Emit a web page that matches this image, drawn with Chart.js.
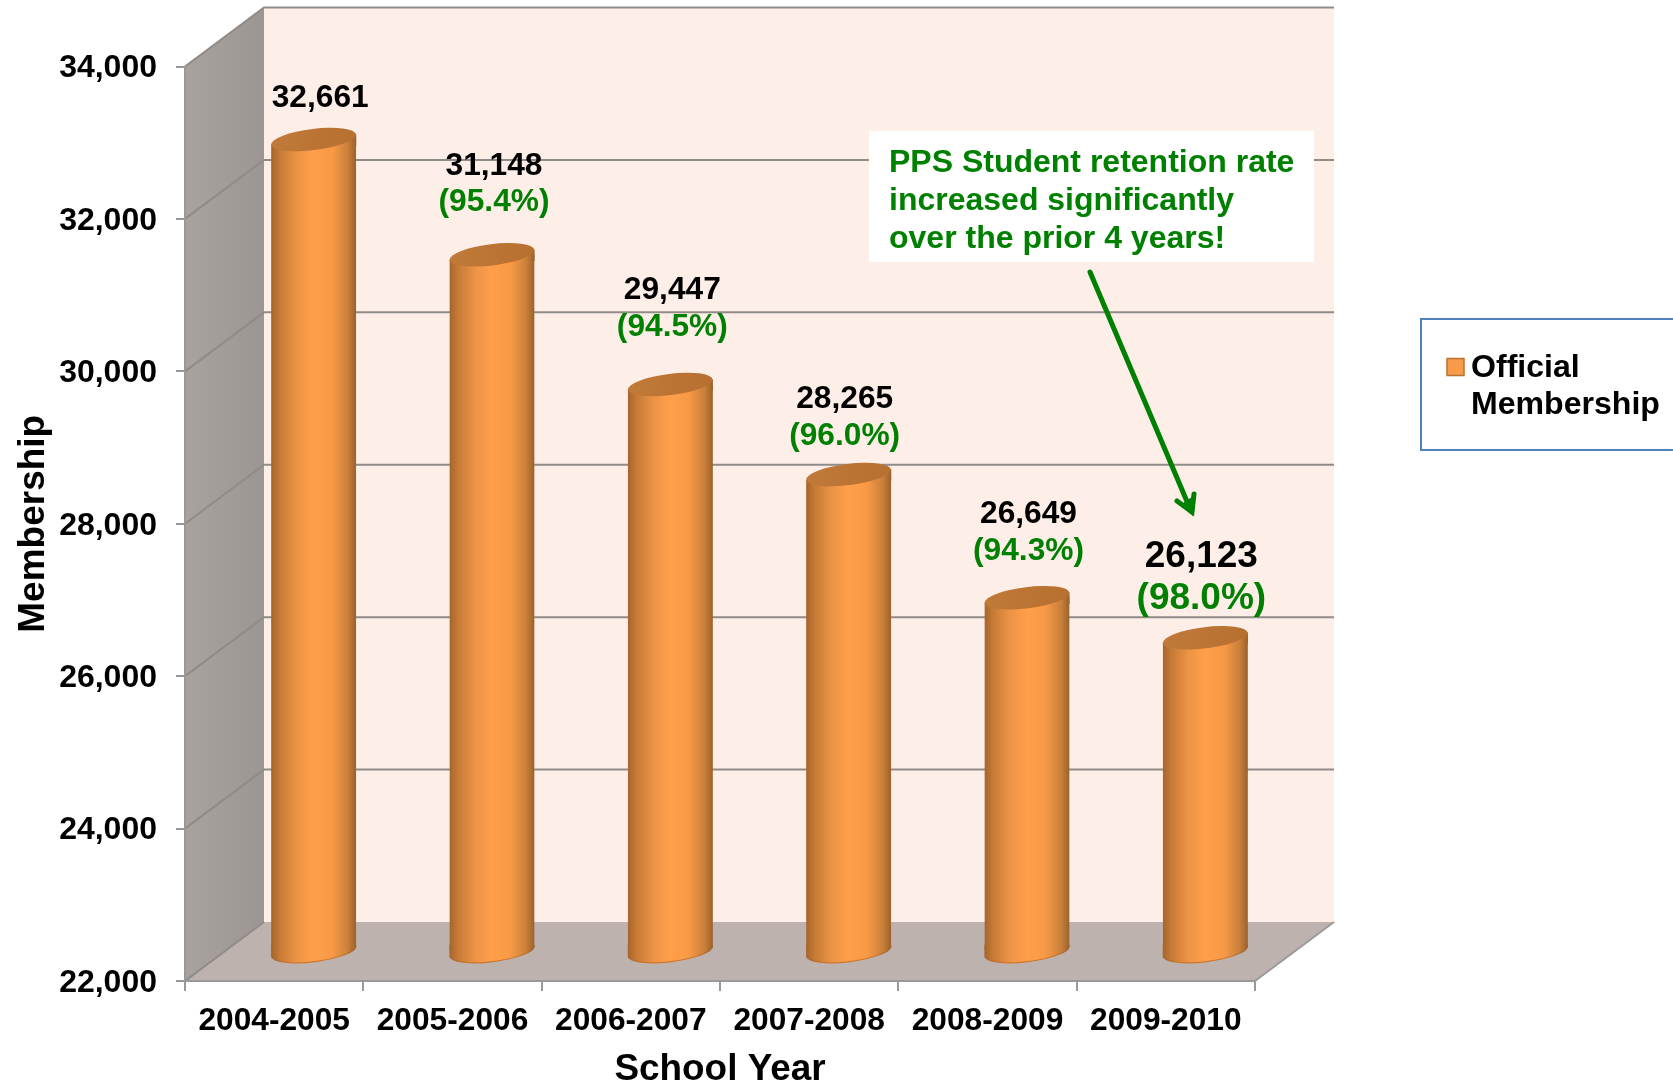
<!DOCTYPE html>
<html>
<head>
<meta charset="utf-8">
<title>PPS Official Membership</title>
<style>
  html, body { margin: 0; padding: 0; background: #ffffff; }
  canvas { display: block; }
</style>
<script src="https://cdn.jsdelivr.net/npm/chart.js@4/dist/chart.umd.min.js"></script>
</head>
<body>
<canvas id="chart" width="1673" height="1086"></canvas>
<script>
// Chart content
const schoolYears = ['2004-2005', '2005-2006', '2006-2007', '2007-2008', '2008-2009', '2009-2010'];
const membership = [32661, 31148, 29447, 28265, 26649, 26123];
const retentionRates = [null, '95.4%', '94.5%', '96.0%', '94.3%', '98.0%'];
const axisMin = 22000;
const axisMax = 34000;
const axisStep = 2000;
const seriesName = ['Official', 'Membership'];
const calloutLines = ['PPS Student retention rate', 'increased significantly', 'over the prior 4 years!'];

// Value label placement relative to the top of each cylinder: [dx, black dy, green dy]
const labelNudges = [
  [6.5, -41, 0], [2, -89, -53], [2, -94, -57],
  [-4, -75, -38], [1.5, -83, -46], [-4, -81, -39]
];
const labelSizes = [[31.7, 0], [31.7, 31.7], [31.7, 31.7], [31.7, 31.7], [31.7, 31.7], [37, 37]];

// Pseudo-3D box depth in pixels
const DEPTH_X = 79;
const DEPTH_Y = -59;
const BAR_DX = 39.5;
const BAR_DY = -29;
const TILT = 7 * Math.PI / 180;
const CAP_RATIO = 0.25;

const FONT = '"Liberation Sans", Arial, sans-serif';
const GREEN = '#008000';
const GRID = '#8f8b88';
const ORANGE = '#ff9f4b';

function cylinderGradient(ctx, left, right) {
  const g = ctx.createLinearGradient(left, 0, right, 0);
  g.addColorStop(0, '#a5652c');
  g.addColorStop(0.1, '#c67a36');
  g.addColorStop(0.3, '#ec9345');
  g.addColorStop(0.5, '#ff9f4b');
  g.addColorStop(0.72, '#f79946');
  g.addColorStop(0.9, '#c9803a');
  g.addColorStop(1, '#9c602b');
  return g;
}

// Floor, side wall, back wall and the gridlines that wrap round them
const boxPlugin = {
  id: 'box3d',
  beforeDraw(chart) {
    const { ctx, chartArea: a, scales: { y } } = chart;
    const poly = (pts, fill) => {
      ctx.beginPath();
      pts.forEach((p, i) => (i ? ctx.lineTo(p[0], p[1]) : ctx.moveTo(p[0], p[1])));
      ctx.closePath();
      ctx.fillStyle = fill;
      ctx.fill();
    };
    ctx.save();
    const bl = a.left + DEPTH_X, br = a.right + DEPTH_X;
    poly([[bl, a.top + DEPTH_Y], [br, a.top + DEPTH_Y], [br, a.bottom + DEPTH_Y], [bl, a.bottom + DEPTH_Y]], '#fdeee7');
    poly([[a.left, a.bottom], [bl, a.bottom + DEPTH_Y], [br, a.bottom + DEPTH_Y], [a.right, a.bottom]], '#bdb2ae');
    const wall = ctx.createLinearGradient(a.left, 0, bl, 0);
    wall.addColorStop(0, '#a9a39f');
    wall.addColorStop(1, '#9c9692');
    poly([[a.left, a.bottom], [bl, a.bottom + DEPTH_Y], [bl, a.top + DEPTH_Y], [a.left, a.top]], wall);

    ctx.strokeStyle = GRID;
    ctx.lineWidth = 2;
    y.ticks.forEach((t) => {
      const py = y.getPixelForValue(t.value);
      ctx.beginPath();
      ctx.moveTo(a.left, py);
      ctx.lineTo(bl, py + DEPTH_Y);
      if (t.value !== axisMin) ctx.lineTo(br, py + DEPTH_Y);
      ctx.stroke();
    });
    ctx.strokeStyle = '#9a9a9a';
    ctx.beginPath();
    ctx.moveTo(a.right, a.bottom);
    ctx.lineTo(br, a.bottom + DEPTH_Y);
    ctx.stroke();
    ctx.restore();
  }
};

// Shifts the bars to mid-depth of the box and gives them round caps
const cylinderPlugin = {
  id: 'cylinders',
  beforeDatasetsDraw(chart) {
    const { ctx } = chart;
    const bars = chart.getDatasetMeta(0).data;
    ctx.save();
    ctx.translate(BAR_DX, BAR_DY);
    const slope = Math.tan(TILT);
    bars.forEach((bar) => {
      const r = bar.width / 2, d = r * slope;
      const body = cylinderGradient(ctx, bar.x - r, bar.x + r);
      ctx.fillStyle = body;
      ctx.beginPath();
      ctx.ellipse(bar.x, bar.base, r, r * CAP_RATIO, -TILT, 0, Math.PI * 2);
      ctx.fill();
      // Wedges joining the square body to the tilted ellipses at each end
      ctx.beginPath();
      ctx.moveTo(bar.x - r, bar.base - d - 1);
      ctx.lineTo(bar.x + r, bar.base - d - 1);
      ctx.lineTo(bar.x + r, bar.base - d);
      ctx.lineTo(bar.x - r, bar.base + d);
      ctx.closePath();
      ctx.moveTo(bar.x - r, bar.y + d);
      ctx.lineTo(bar.x + r, bar.y - d);
      ctx.lineTo(bar.x + r, bar.y + d + 1);
      ctx.lineTo(bar.x - r, bar.y + d + 1);
      ctx.closePath();
      ctx.fill();
      // Darker rim along the lower edge, fading into the body at both ends
      const rim = ctx.createLinearGradient(bar.x - r, 0, bar.x + r, 0);
      rim.addColorStop(0, '#a5652c');
      rim.addColorStop(0.2, '#d0762c');
      rim.addColorStop(0.8, '#d0762c');
      rim.addColorStop(1, '#9c602b');
      ctx.beginPath();
      ctx.ellipse(bar.x, bar.base, r, r * CAP_RATIO, -TILT, 0, Math.PI);
      ctx.strokeStyle = rim;
      ctx.lineWidth = 1.2;
      ctx.stroke();
    });
    // Slanted cut along both ends of every body so no square corners show
    ctx.beginPath();
    bars.forEach((bar) => {
      const r = bar.width / 2, d = r * slope;
      ctx.moveTo(bar.x - r, bar.y + d);
      ctx.lineTo(bar.x + r, bar.y - d);
      ctx.lineTo(bar.x + r, bar.base - d);
      ctx.lineTo(bar.x - r, bar.base + d);
      ctx.closePath();
    });
    ctx.clip();
  },
  afterDatasetsDraw(chart) {
    const { ctx } = chart;
    ctx.restore();
    const bars = chart.getDatasetMeta(0).data;
    ctx.save();
    bars.forEach((bar, i) => {
      const r = bar.width / 2;
      const cx = bar.x + BAR_DX, cy = bar.y + BAR_DY;
      const top = ctx.createLinearGradient(cx - r, 0, cx + r, 0);
      top.addColorStop(0, '#c07a3a');
      top.addColorStop(0.5, '#bb7434');
      top.addColorStop(1, '#b87030');
      ctx.beginPath();
      ctx.ellipse(cx, cy, r, r * CAP_RATIO, -TILT, 0, Math.PI * 2);
      ctx.fillStyle = top;
      ctx.fill();

      // Value and retention labels above the cap
      const [dx, dyValue, dyRate] = labelNudges[i];
      const [sizeValue, sizeRate] = labelSizes[i];
      ctx.textAlign = 'center';
      ctx.textBaseline = 'middle';
      ctx.fillStyle = '#000000';
      ctx.font = `bold ${sizeValue}px ${FONT}`;
      ctx.fillText(membership[i].toLocaleString('en-US'), cx + dx, cy + dyValue);
      if (retentionRates[i]) {
        ctx.fillStyle = GREEN;
        ctx.font = `bold ${sizeRate}px ${FONT}`;
        ctx.fillText(`(${retentionRates[i]})`, cx + dx, cy + dyRate);
      }
    });
    ctx.restore();
  }
};

// Callout with its arrow, and the legend box at the right edge
const overlayPlugin = {
  id: 'overlay',
  afterDraw(chart) {
    const { ctx } = chart;
    ctx.save();

    ctx.fillStyle = '#ffffff';
    ctx.fillRect(869, 131, 445, 131);
    ctx.fillStyle = GREEN;
    ctx.font = `bold 32px ${FONT}`;
    ctx.textAlign = 'left';
    ctx.textBaseline = 'middle';
    calloutLines.forEach((line, i) => ctx.fillText(line, 889, 163 + i * 38));

    ctx.strokeStyle = GREEN;
    ctx.lineWidth = 5;
    ctx.lineCap = 'round';
    ctx.lineJoin = 'miter';
    ctx.beginPath();
    ctx.moveTo(1090, 272);
    ctx.lineTo(1191, 511);
    ctx.stroke();
    ctx.beginPath();
    ctx.moveTo(1177, 501);
    ctx.lineTo(1192, 512);
    ctx.lineTo(1194, 494);
    ctx.stroke();
    ctx.fillStyle = GREEN;
    ctx.beginPath();
    ctx.moveTo(1193, 516);
    ctx.lineTo(1180, 505);
    ctx.lineTo(1192, 497);
    ctx.closePath();
    ctx.fill();

    ctx.fillStyle = '#ffffff';
    ctx.strokeStyle = '#4f81bd';
    ctx.lineWidth = 2;
    ctx.beginPath();
    ctx.rect(1421, 319, 260, 131);
    ctx.fill();
    ctx.stroke();

    ctx.fillStyle = '#f79a4a';
    ctx.strokeStyle = '#b87333';
    ctx.lineWidth = 1.5;
    ctx.fillRect(1447, 358.5, 17, 17);
    ctx.strokeRect(1447, 358.5, 17, 17);

    ctx.fillStyle = '#000000';
    ctx.font = `bold 32.1px ${FONT}`;
    ctx.textAlign = 'left';
    ctx.textBaseline = 'middle';
    seriesName.forEach((line, i) => ctx.fillText(line, 1471, 368 + i * 37));
    ctx.restore();
  }
};

new Chart(document.getElementById('chart'), {
  type: 'bar',
  data: {
    labels: schoolYears,
    datasets: [{
      label: seriesName.join(' '),
      data: membership,
      base: axisMin,
      clip: false,
      backgroundColor(c) {
        if (c.dataIndex === undefined) return ORANGE;
        const x = c.chart.scales.x;
        const half = x.width / schoolYears.length * 0.4775 / 2;
        const px = x.getPixelForTick(c.dataIndex);
        if (!Number.isFinite(px) || !Number.isFinite(half)) return ORANGE;
        return cylinderGradient(c.chart.ctx, px - half, px + half);
      },
      borderWidth: 0,
      barPercentage: 1,
      categoryPercentage: 0.4775
    }]
  },
  options: {
    responsive: false,
    animation: false,
    events: [],
    layout: { padding: { top: 66.5, right: 418, left: 0, bottom: 0 } },
    plugins: {
      legend: { display: false },
      tooltip: { enabled: false }
    },
    scales: {
      x: {
        afterFit(scale) { scale.height = 105; },
        grid: { offset: true, drawOnChartArea: false, color: '#999999', lineWidth: 2, tickLength: 10 },
        border: { color: '#999999', width: 2 },
        ticks: {
          color: '#000000', padding: 11, maxRotation: 0, autoSkip: false,
          font: { family: FONT, weight: 'bold', size: 31.7 }
        },
        title: {
          display: true, text: 'School Year', color: '#000000',
          font: { family: FONT, weight: 'bold', size: 36.9, lineHeight: 1 },
          padding: { top: 0, bottom: -2 }
        }
      },
      y: {
        min: axisMin,
        max: axisMax,
        afterFit(scale) { scale.width = 185; },
        grid: { drawOnChartArea: false, color: '#999999', lineWidth: 2, tickLength: 9 },
        border: { color: '#999999', width: 2 },
        ticks: {
          stepSize: axisStep, color: '#000000', padding: 19, labelOffset: 2,
          font: { family: FONT, weight: 'bold', size: 32 },
          callback: (v) => Number(v).toLocaleString('en-US')
        },
        title: {
          display: true, text: 'Membership', color: '#000000',
          font: { family: FONT, weight: 'bold', size: 37, lineHeight: 1 },
          padding: { top: 15, bottom: 0 }
        }
      }
    }
  },
  plugins: [boxPlugin, cylinderPlugin, overlayPlugin]
});
</script>
</body>
</html>
